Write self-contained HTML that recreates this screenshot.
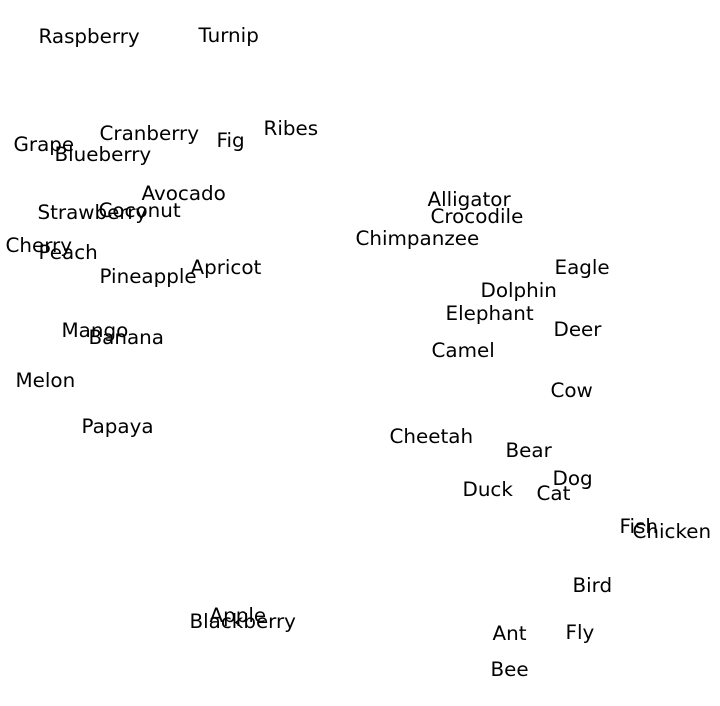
<!DOCTYPE html>
<html><head><meta charset="utf-8"><style>
html,body{margin:0;padding:0;background:#fff}
svg{display:block}
text{font-family:"DejaVu Sans","Liberation Sans",sans-serif;font-size:19.9px;fill:#000}
</style></head><body>
<svg width="720" height="706" xmlns="http://www.w3.org/2000/svg">
<g transform="translate(0.5,0)">
<text x="38" y="43">Raspberry</text>
<text x="198" y="42">Turnip</text>
<text x="99" y="140">Cranberry</text>
<text x="216" y="147">Fig</text>
<text x="263" y="135">Ribes</text>
<text x="13" y="151">Grape</text>
<text x="54" y="161">Blueberry</text>
<text x="141" y="200">Avocado</text>
<text x="37" y="219">Strawberry</text>
<text x="98" y="217">Coconut</text>
<text x="5" y="252">Cherry</text>
<text x="38" y="259">Peach</text>
<text x="99" y="283">Pineapple</text>
<text x="190" y="274">Apricot</text>
<text x="61" y="337">Mango</text>
<text x="88" y="344">Banana</text>
<text x="15" y="387">Melon</text>
<text x="81" y="433">Papaya</text>
<text x="209" y="622">Apple</text>
<text x="189" y="628">Blackberry</text>
<text x="427" y="206">Alligator</text>
<text x="430" y="223">Crocodile</text>
<text x="355" y="245">Chimpanzee</text>
<text x="554" y="274">Eagle</text>
<text x="480" y="297">Dolphin</text>
<text x="445" y="320">Elephant</text>
<text x="553" y="336">Deer</text>
<text x="431" y="357">Camel</text>
<text x="550" y="397">Cow</text>
<text x="389" y="443">Cheetah</text>
<text x="505" y="457">Bear</text>
<text x="552" y="485">Dog</text>
<text x="462" y="496">Duck</text>
<text x="536" y="500">Cat</text>
<text x="619" y="533">Fish</text>
<text x="632" y="538">Chicken</text>
<text x="572" y="592">Bird</text>
<text x="492" y="640">Ant</text>
<text x="565" y="639">Fly</text>
<text x="490" y="676">Bee</text>
</g>
</svg>
</body></html>
